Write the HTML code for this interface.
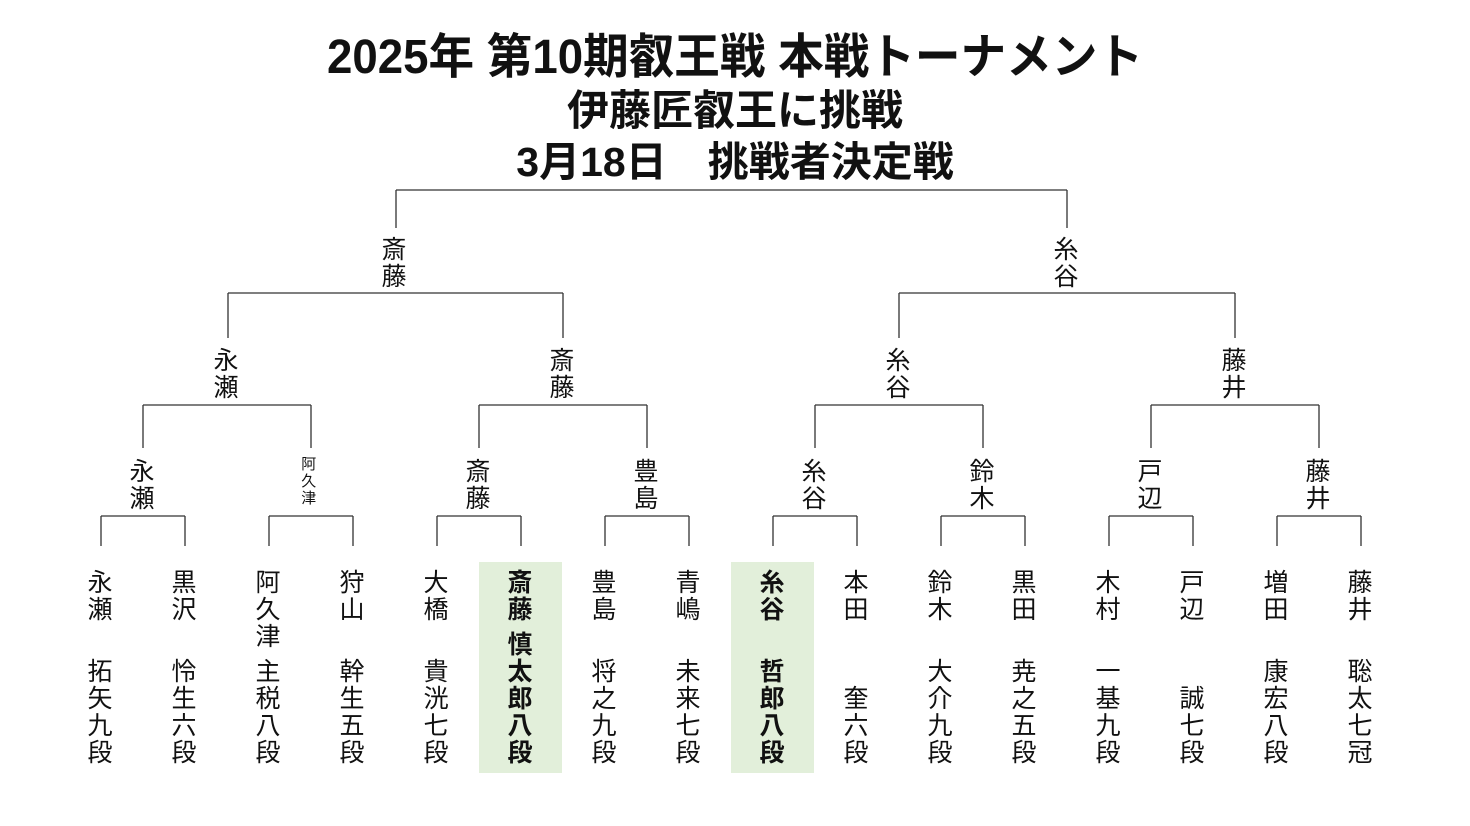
<!DOCTYPE html>
<html><head><meta charset="utf-8"><style>
body{margin:0;width:1470px;height:826px;background:#fff;position:relative;overflow:hidden;font-family:"Liberation Sans","Noto Sans CJK JP",sans-serif;color:#111}
.t{position:absolute;left:0;width:1470px;text-align:center;font-weight:bold;font-family:"Liberation Sans","Noto Sans CJK JP",sans-serif;white-space:pre}
.v{position:absolute;writing-mode:vertical-rl;font-size:25px;line-height:25px;letter-spacing:2px;transform:translateX(-52%)}
.b{font-weight:bold}
.hl{position:absolute;background:#e2efda;top:562px;height:211px;width:83px}
svg{position:absolute;left:0;top:0}
</style></head><body>
<div class="t" style="top:30px;font-size:48px;line-height:56px;transform:scaleX(0.95)">2025年 第10期叡王戦 本戦トーナメント</div>
<div class="t" style="top:87px;font-size:42px;line-height:48px">伊藤匠叡王に挑戦</div>
<div class="t" style="top:138px;font-size:41px;line-height:48px">3月18日　挑戦者決定戦</div>
<div class="hl" style="left:479px"></div>
<div class="hl" style="left:731px"></div>
<svg width="1470" height="826" stroke="#333" stroke-width="1.3" fill="none">
<path d="M396 190H1067M396 190V228M1067 190V228"/>
<path d="M228 293H563M228 293V338M563 293V338M899 293H1235M899 293V338M1235 293V338"/>
<path d="M143 405H311M143 405V448M311 405V448M479 405H647M479 405V448M647 405V448M815 405H983M815 405V448M983 405V448M1151 405H1319M1151 405V448M1319 405V448"/>
<path d="M101 516H185M101 516V546M185 516V546M269 516H353M269 516V546M353 516V546M437 516H521M437 516V546M521 516V546M605 516H689M605 516V546M689 516V546M773 516H857M773 516V546M857 516V546M941 516H1025M941 516V546M1025 516V546M1109 516H1193M1109 516V546M1193 516V546M1277 516H1361M1277 516V546M1361 516V546"/>
</svg>
<div class="v" style="left:392px;top:236px">斎藤</div>
<div class="v" style="left:1064px;top:236px">糸谷</div>
<div class="v" style="left:224px;top:347px">永瀬</div>
<div class="v" style="left:560px;top:347px">斎藤</div>
<div class="v" style="left:896px;top:347px">糸谷</div>
<div class="v" style="left:1232px;top:347px">藤井</div>
<div class="v" style="left:140px;top:458px">永瀬</div>
<div class="v" style="left:308px;top:456px;font-size:15px;line-height:15px;letter-spacing:2px">阿久津</div>
<div class="v" style="left:476px;top:458px">斎藤</div>
<div class="v" style="left:644px;top:458px">豊島</div>
<div class="v" style="left:812px;top:458px">糸谷</div>
<div class="v" style="left:980px;top:458px">鈴木</div>
<div class="v" style="left:1148px;top:458px">戸辺</div>
<div class="v" style="left:1316px;top:458px">藤井</div>
<div class="v" style="left:98px;top:569px">永瀬</div>
<div class="v" style="left:182px;top:569px">黒沢</div>
<div class="v" style="left:266px;top:569px">阿久津</div>
<div class="v" style="left:350px;top:569px">狩山</div>
<div class="v" style="left:434px;top:569px">大橋</div>
<div class="v b" style="left:518px;top:569px">斎藤</div>
<div class="v" style="left:602px;top:569px">豊島</div>
<div class="v" style="left:686px;top:569px">青嶋</div>
<div class="v b" style="left:770px;top:569px">糸谷</div>
<div class="v" style="left:854px;top:569px">本田</div>
<div class="v" style="left:938px;top:569px">鈴木</div>
<div class="v" style="left:1022px;top:569px">黒田</div>
<div class="v" style="left:1106px;top:569px">木村</div>
<div class="v" style="left:1190px;top:569px">戸辺</div>
<div class="v" style="left:1274px;top:569px">増田</div>
<div class="v" style="left:1358px;top:569px">藤井</div>
<div class="v" style="left:98px;bottom:60px">拓矢九段</div>
<div class="v" style="left:182px;bottom:60px">怜生六段</div>
<div class="v" style="left:266px;bottom:60px">主税八段</div>
<div class="v" style="left:350px;bottom:60px">幹生五段</div>
<div class="v" style="left:434px;bottom:60px">貴洸七段</div>
<div class="v b" style="left:518px;bottom:60px">慎太郎八段</div>
<div class="v" style="left:602px;bottom:60px">将之九段</div>
<div class="v" style="left:686px;bottom:60px">未来七段</div>
<div class="v b" style="left:770px;bottom:60px">哲郎八段</div>
<div class="v" style="left:854px;bottom:60px">奎六段</div>
<div class="v" style="left:938px;bottom:60px">大介九段</div>
<div class="v" style="left:1022px;bottom:60px">尭之五段</div>
<div class="v" style="left:1106px;bottom:60px">一基九段</div>
<div class="v" style="left:1190px;bottom:60px">誠七段</div>
<div class="v" style="left:1274px;bottom:60px">康宏八段</div>
<div class="v" style="left:1358px;bottom:60px">聡太七冠</div>
</body></html>
